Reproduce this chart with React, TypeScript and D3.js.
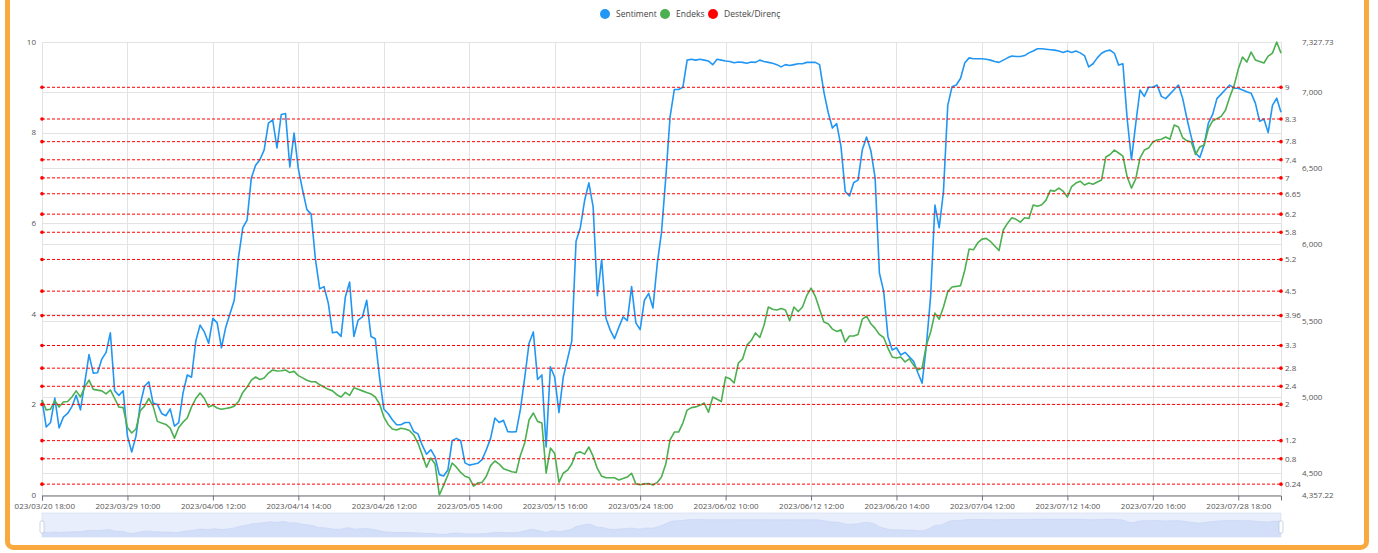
import { useEffect, useRef } from "react";
import * as d3 from "d3";

// x-axis labels, one every `tickEvery` points
const tickLabels = [
  "2023/03/20 18:00", "2023/03/29 10:00", "2023/04/06 12:00", "2023/04/14 14:00",
  "2023/04/26 12:00", "2023/05/05 14:00", "2023/05/15 16:00", "2023/05/24 18:00",
  "2023/06/02 10:00", "2023/06/12 12:00", "2023/06/20 14:00", "2023/07/04 12:00",
  "2023/07/12 14:00", "2023/07/20 16:00", "2023/07/28 18:00",
];
const tickEvery = 20;

// left axis (0-10)
const sentiment = [
  2.1, 1.5, 1.6, 2.14, 1.48, 1.72, 1.8, 1.95, 2.2, 1.88,
  2.47, 3.1, 2.69, 2.7, 3.0, 3.15, 3.58, 2.3, 2.2, 2.3,
  1.3, 0.95, 1.3, 2.0, 2.4, 2.5, 2.03, 2.0, 1.8, 1.75,
  1.9, 1.52, 1.6, 2.25, 2.65, 2.6, 3.4, 3.75, 3.6, 3.35,
  3.9, 3.8, 3.25, 3.7, 4.0, 4.3, 5.25, 5.9, 6.07, 7.0,
  7.28, 7.4, 7.62, 8.21, 8.28, 7.66, 8.4, 8.42, 7.24, 7.99,
  7.2, 6.73, 6.3, 6.2, 5.2, 4.55, 4.6, 4.24, 3.58, 3.6,
  3.5, 4.37, 4.7, 3.5, 3.86, 3.93, 4.3, 3.5, 3.45, 2.6,
  1.9, 1.8, 1.66, 1.55, 1.55, 1.6, 1.6, 1.4, 1.35, 1.1,
  0.9, 1.0, 0.84, 0.45, 0.42, 0.55, 1.2, 1.25, 1.2, 0.71,
  0.66, 0.68, 0.7, 0.78, 1.0, 1.25, 1.7, 1.6, 1.65, 1.4,
  1.39, 1.4, 1.9, 2.6, 3.35, 3.6, 2.55, 2.65, 1.06, 2.83,
  2.6, 1.82, 2.6, 3.0, 3.4, 5.6, 5.9, 6.5, 6.89, 6.36,
  4.4, 5.2, 3.9, 3.64, 3.45, 3.7, 3.93, 3.85, 4.6, 3.8,
  3.65, 4.3, 4.45, 4.13, 5.1, 5.8, 7.0, 8.34, 8.95, 8.95,
  9.0, 9.6, 9.62, 9.6, 9.62, 9.6, 9.58, 9.5, 9.62, 9.6,
  9.58, 9.57, 9.54, 9.56, 9.55, 9.53, 9.56, 9.55, 9.6, 9.57,
  9.55, 9.53, 9.5, 9.45, 9.5, 9.48, 9.5, 9.52, 9.52, 9.55,
  9.55, 9.55, 9.5, 8.9, 8.45, 8.1, 8.2, 7.7, 6.7, 6.6,
  6.9, 6.95, 7.62, 7.9, 7.6, 7.0, 4.9, 4.5, 3.5, 3.2,
  3.25, 3.09, 3.15, 3.05, 2.95, 2.7, 2.47, 3.3, 4.4, 6.4,
  5.9, 6.7, 8.6, 9.01, 9.05, 9.2, 9.54, 9.65, 9.63, 9.63,
  9.63, 9.62, 9.6, 9.57, 9.55, 9.6, 9.65, 9.69, 9.68, 9.68,
  9.7, 9.76, 9.8, 9.85, 9.85, 9.84, 9.83, 9.82, 9.8, 9.77,
  9.8, 9.77, 9.8, 9.76, 9.7, 9.45, 9.52, 9.65, 9.75, 9.8,
  9.82, 9.75, 9.49, 9.52, 8.3, 7.4, 8.2, 8.94, 8.8, 9.0,
  9.0, 9.05, 8.8, 8.75, 8.85, 8.95, 9.05, 8.75, 8.3, 7.9,
  7.55, 7.45, 7.73, 8.21, 8.4, 8.75, 8.85, 8.95, 9.05, 8.98,
  8.98, 8.94, 8.9, 8.87, 8.65, 8.25, 8.3, 8.0, 8.6, 8.76,
  8.45,
];

// right axis (index level)
const endeks = [
  4980, 4914, 4920, 4975, 4934, 4967, 4970, 5000, 5040, 5000,
  5065, 5111, 5050, 5045, 5040, 5020, 5046, 4990, 4934, 4930,
  4800, 4764, 4790, 4910, 4940, 4990, 4940, 4840, 4829, 4820,
  4796, 4730, 4800, 4835, 4862, 4935, 4990, 5026, 4990, 4934,
  4945, 4928, 4920, 4925, 4930, 4940, 4970, 5030, 5065, 5110,
  5131, 5115, 5125, 5157, 5177, 5170, 5172, 5177, 5160, 5168,
  5140, 5125, 5110, 5100, 5100, 5080, 5065, 5050, 5040, 5015,
  5000, 5030, 5010, 5060, 5050, 5040, 5030, 5020, 5000, 4955,
  4870, 4820, 4790, 4783, 4795, 4790, 4780, 4751, 4698, 4620,
  4540, 4600, 4560, 4357.22, 4420, 4488, 4567, 4540, 4505, 4480,
  4470, 4415, 4436, 4440, 4480, 4550, 4580, 4560, 4530, 4520,
  4510, 4505, 4620, 4700, 4849, 4895, 4840, 4830, 4501, 4665,
  4630, 4440, 4500, 4520, 4560, 4633, 4640, 4625, 4672, 4610,
  4530, 4480, 4470, 4470, 4470, 4456, 4465, 4475, 4500, 4430,
  4425, 4430, 4432, 4423, 4440, 4475, 4560, 4718, 4770, 4770,
  4829, 4914, 4930, 4935, 4945, 4960, 4900, 5000, 4985, 4970,
  5131, 5120, 5092, 5223, 5250, 5340, 5370, 5420, 5390, 5470,
  5590, 5575, 5570, 5580, 5570, 5500, 5590, 5560, 5590, 5665,
  5714, 5660, 5575, 5491, 5480, 5445, 5430, 5440, 5360, 5400,
  5400, 5410, 5510, 5530, 5480, 5450, 5410, 5390, 5320, 5262,
  5255, 5262, 5230, 5250, 5209, 5177, 5190, 5340, 5426, 5550,
  5510, 5590, 5690, 5721, 5725, 5730, 5833, 5970, 5965, 6010,
  6035, 6040, 6020, 5990, 5960, 6095, 6140, 6175, 6165, 6147,
  6175, 6170, 6259, 6250, 6260, 6291, 6355, 6350, 6370, 6350,
  6311, 6380, 6403, 6415, 6390, 6403, 6395, 6410, 6423, 6574,
  6590, 6619, 6600, 6580, 6442, 6370, 6430, 6567, 6619, 6632,
  6672, 6685, 6690, 6705, 6690, 6783, 6770, 6700, 6680, 6672,
  6590, 6640, 6650, 6760, 6810, 6825, 6840, 6880, 6967, 7040,
  7150, 7229, 7196, 7262, 7210, 7200, 7190, 7235, 7255, 7327.73,
  7255,
];

// support / resistance levels (left axis)
const levels = [9, 8.3, 7.8, 7.4, 7, 6.65, 6.2, 5.8, 5.2, 4.5, 3.96, 3.3, 2.8, 2.4, 2, 1.2, 0.8, 0.24];

const leftTicks = [0, 2, 4, 6, 8, 10];
const rightTicks = [4500, 5000, 5500, 6000, 6500, 7000];

const legendItems = [
  { name: "Sentiment", color: "#2196f3" },
  { name: "Endeks", color: "#4caf50" },
  { name: "Destek/Direnç", color: "#ff0000" },
];

const FONT = '"Open Sans", "Noto Sans", sans-serif';

export default function App() {
  const svgRef = useRef<SVGSVGElement>(null);

  useEffect(() => {
    if (!svgRef.current) return;
    const svg = d3.select(svgRef.current);
    svg.selectAll("*").remove();

    const left = 42, right = 1281, top = 42, bottom = 495;

    const x = d3.scaleLinear().domain([0, sentiment.length - 1]).range([left, right]);
    const yL = d3.scaleLinear().domain([0, 10]).range([bottom, top]);
    const yR = d3
      .scaleLinear()
      .domain([d3.min(endeks) ?? 0, d3.max(endeks) ?? 1])
      .range([bottom, top]);
    const crisp = (v: number) => Math.round(v) + 0.5;

    svg.append("defs")
      .append("clipPath")
      .attr("id", "inner")
      .append("rect")
      .attr("x", 14)
      .attr("y", 0)
      .attr("width", 1350)
      .attr("height", 545);

    const g = svg.append("g").attr("clip-path", "url(#inner)").attr("font-family", FONT);

    // Legend
    const legend = g.append("g").attr("font-size", 8.5).attr("fill", "#333");
    const legendX = [605, 665, 713];
    legendItems.forEach((d, i) => {
      legend.append("circle").attr("cx", legendX[i]).attr("cy", 14).attr("r", 5).attr("fill", d.color);
      legend.append("text")
        .attr("x", legendX[i] + 11)
        .attr("y", 14)
        .attr("dy", "0.35em")
        .attr("fill", "#444")
        .text(d.name);
    });

    // Grid lines
    const grid = g.append("g").attr("stroke", "#e3e3e3").attr("stroke-width", 1);
    leftTicks.forEach((v) => {
      grid.append("line").attr("x1", left).attr("x2", right)
        .attr("y1", crisp(yL(v))).attr("y2", crisp(yL(v)));
    });
    rightTicks.forEach((v) => {
      grid.append("line").attr("x1", left).attr("x2", right)
        .attr("y1", crisp(yR(v))).attr("y2", crisp(yR(v)));
    });
    const tickIdx = d3.range(0, sentiment.length, tickEvery);
    [...tickIdx, sentiment.length - 1].forEach((i) => {
      grid.append("line").attr("x1", crisp(x(i))).attr("x2", crisp(x(i)))
        .attr("y1", top).attr("y2", bottom);
    });

    // X axis
    const xAxis = g.append("g")
      .attr("transform", `translate(0,${bottom + 0.5})`)
      .call(
        d3.axisBottom(x)
          .tickValues(tickIdx)
          .tickSize(5)
          .tickPadding(3)
          .tickFormat((d) => tickLabels[(d as number) / tickEvery] ?? "")
      );
    xAxis.select(".domain").attr("stroke", "#6e7079");
    xAxis.selectAll(".tick line").attr("stroke", "#6e7079");
    xAxis.selectAll(".tick text")
      .attr("fill", "#555")
      .attr("font-size", 8)
      .attr("font-family", FONT);

    // Left axis labels
    g.append("g").selectAll("text").data(leftTicks).join("text")
      .attr("x", 36).attr("y", (d) => yL(d)).attr("dy", "0.35em")
      .attr("text-anchor", "end").attr("font-size", 8).attr("fill", "#555")
      .text((d) => d);

    // Right axis labels
    const [eMin, eMax] = yR.domain();
    const rightLabels = [eMin, ...rightTicks, eMax];
    g.append("g").selectAll("text").data(rightLabels).join("text")
      .attr("x", 1302).attr("y", (d) => yR(d)).attr("dy", "0.35em")
      .attr("font-size", 8).attr("fill", "#555")
      .text((d) => (d === eMin || d === eMax ? d3.format(",.2f")(d) : d3.format(",")(d)));

    // Series lines
    const lineL = d3.line<number>().x((_, i) => x(i)).y((d) => yL(d));
    const lineR = d3.line<number>().x((_, i) => x(i)).y((d) => yR(d));
    g.append("path").datum(sentiment).attr("d", lineL)
      .attr("fill", "none").attr("stroke", "#2196f3").attr("stroke-width", 1.6)
      .attr("stroke-linejoin", "round");
    g.append("path").datum(endeks).attr("d", lineR)
      .attr("fill", "none").attr("stroke", "#4caf50").attr("stroke-width", 1.6)
      .attr("stroke-linejoin", "round");

    // Support / resistance mark lines
    const marks = g.append("g");
    levels.forEach((v) => {
      const yy = yL(v);
      marks.append("line").attr("x1", left).attr("x2", right).attr("y1", yy).attr("y2", yy)
        .attr("stroke", "#ff0000").attr("stroke-width", 1).attr("stroke-dasharray", "3,2");
      marks.append("circle").attr("cx", left).attr("cy", yy).attr("r", 1.8).attr("fill", "#ff0000");
      marks.append("circle").attr("cx", right).attr("cy", yy).attr("r", 1.8).attr("fill", "#ff0000");
      marks.append("text").attr("x", right + 4).attr("y", yy).attr("dy", "0.35em")
        .attr("font-size", 8).attr("fill", "#555").text(String(v));
    });

    // Data zoom slider
    const sTop = 513, sBottom = 537;
    const ys = d3.scaleLinear().domain([0, 10]).range([sBottom - 2, sTop + 6]);
    const slider = g.append("g");
    slider.append("rect").attr("x", left).attr("y", sTop).attr("width", right - left)
      .attr("height", sBottom - sTop).attr("fill", "#e8eefc").attr("stroke", "#d2dbee").attr("stroke-width", 0.6);
    const area = d3.area<number>().x((_, i) => x(i)).y0(sBottom).y1((d) => ys(d)).curve(d3.curveBasis);
    slider.append("path").datum(sentiment).attr("d", area).attr("fill", "#d3def8");
    const sLine = d3.line<number>().x((_, i) => x(i)).y((d) => ys(d)).curve(d3.curveBasis);
    slider.append("path").datum(sentiment).attr("d", sLine).attr("fill", "none")
      .attr("stroke", "#c5d3f3").attr("stroke-width", 0.6);
    [left, right].forEach((hx) => {
      slider.append("rect").attr("x", hx - 2).attr("y", 521).attr("width", 4).attr("height", 12)
        .attr("rx", 1.5).attr("fill", "#fff").attr("stroke", "#acb8d1").attr("stroke-width", 0.6);
    });

    // Orange frame
    svg.append("rect").attr("x", 7.5).attr("y", -10).attr("width", 1359).attr("height", 557.5)
      .attr("rx", 6).attr("fill", "none").attr("stroke", "#f9a93e").attr("stroke-width", 5);
  }, []);

  return (
    <svg
      ref={svgRef}
      width={1378}
      height={553}
      style={{ position: "absolute", left: 0, top: 0, display: "block", background: "#fff" }}
    />
  );
}
